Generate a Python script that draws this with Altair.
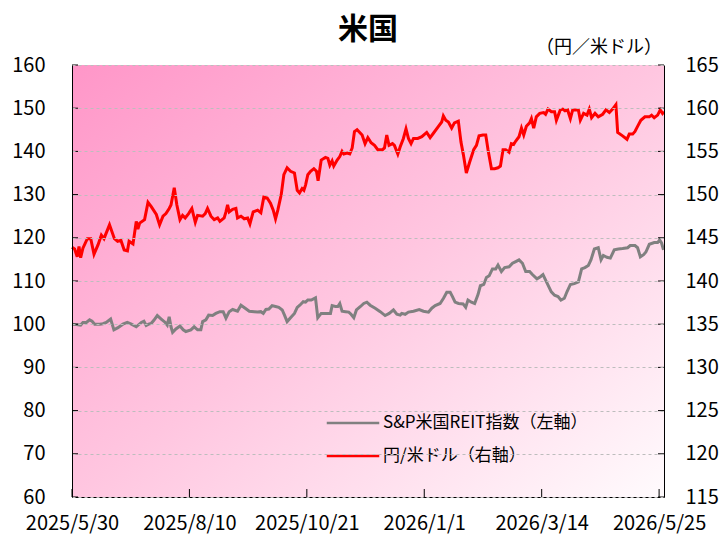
import altair as alt
import pandas as pd

START = "2025-05-30"
series_names = ["S&P米国REIT指数（左軸）", "円/米ドル（右軸）"]
series_colors = ["#808080", "#ff0000"]

# days since 2025/5/30
reit_days = [
    0, 2.6, 5.3, 6.7, 8.8, 10.8, 12.3, 13.9, 17, 19,
    21, 23.7, 25.7, 28.2, 31.2, 33.9, 36.4, 39.4, 42.5, 44.1,
    45.5, 47, 48.6, 50.2, 52.3, 54.7, 57.2, 58.4, 59.6, 60.7,
    61.7, 63.7, 66.2, 68.2, 69.8, 72.9, 74.9, 77, 79, 80.1,
    82.1, 83.8, 86.2, 88.2, 90.7, 92.7, 94.4, 96.4, 98.5, 101.5,
    103.6, 106.2, 108.7, 111.8, 113.8, 115.8, 117.3, 118.9, 120.7, 122.7,
    124.8, 126.8, 128.9, 130.3, 131.9, 134, 136.4, 138.1, 139.7, 141.8,
    143.2, 144.6, 146.7, 149.3, 150.7, 152.8, 155.4, 158.5, 159.5, 161.5,
    163, 164.2, 165.6, 167.7, 169.7, 171.1, 172.8, 174.4, 176.9, 178.9,
    180.8, 182.8, 185.9, 189, 192, 194.5, 197.1, 199.2, 201.2, 202.2,
    204.3, 206.3, 209.4, 212.9, 215.5, 218.6, 220.6, 222.7, 225.7, 227.8,
    229.8, 231.9, 233.3, 234.9, 237, 239.8, 241.4, 242.8, 244.9, 246.9,
    249, 250.4, 252.5, 254.1, 255.8, 257.8, 259.8, 261.2, 263.3, 265.3,
    268, 270.1, 272.1, 274.1, 276.2, 278.2, 280.6, 282.3, 285.1, 287.2,
    288.8, 291.3, 293.9, 295.9, 298, 299.8, 301.9, 303.5, 305.6, 308,
    310.5, 312.5, 314.5, 316.6, 318.2, 320.3, 322.7, 324.4, 325.8, 328,
    330.1, 332.5, 335, 337.6, 340.7, 342.3, 345.2, 346.8, 348.5, 350.5,
    351.9, 354, 357, 359.1, 360.3, 361.5, 362.7,
]
reit_vals = [
    100.0, 99.9, 99.8, 100.4, 100.4, 101.0, 100.7, 100.0, 100.0, 100.1,
    100.4, 101.2, 98.7, 99.2, 100.0, 100.4, 100.0, 99.4, 100.4, 100.7,
    99.7, 100.0, 100.2, 100.9, 102.0, 101.2, 100.4, 99.8, 101.7, 99.4,
    98.1, 98.9, 99.6, 98.7, 98.3, 98.7, 99.4, 98.7, 98.7, 100.6,
    101.0, 102.1, 102.0, 102.5, 102.9, 102.9, 101.4, 102.9, 103.4, 103.0,
    104.4, 103.7, 103.0, 102.9, 102.8, 102.9, 102.5, 103.4, 103.5, 104.3,
    104.1, 103.9, 103.3, 102.1, 100.6, 101.5, 102.5, 103.9, 104.4, 105.2,
    105.1, 105.6, 105.6, 106.1, 101.5, 102.5, 102.5, 102.5, 104.3, 104.1,
    104.1, 104.8, 103.0, 102.9, 102.8, 102.3, 101.5, 103.3, 104.1, 104.8,
    105.1, 104.4, 103.7, 102.9, 102.0, 102.5, 103.3, 102.3, 102.1, 102.5,
    102.3, 102.8, 103.0, 103.4, 103.0, 102.8, 103.7, 104.3, 104.8, 106.0,
    107.4, 107.4, 106.4, 105.1, 104.8, 104.7, 103.9, 105.6, 105.1, 104.8,
    106.9, 108.9, 109.2, 110.8, 111.2, 112.8, 112.8, 113.7, 112.2, 113.1,
    113.3, 114.1, 114.5, 114.9, 114.1, 112.2, 112.2, 111.5, 110.5, 111.0,
    111.5, 109.5, 107.5, 106.7, 106.4, 105.6, 106.0, 107.5, 109.2, 109.4,
    109.8, 112.8, 113.1, 113.6, 114.9, 117.4, 117.7, 114.9, 115.9, 115.5,
    115.3, 117.2, 117.4, 117.5, 117.7, 118.2, 118.2, 117.7, 115.6, 116.1,
    116.7, 118.5, 118.9, 118.9, 119.5, 118.8, 117.2,
]

usdjpy_days = [
    0, 1.6, 3.2, 4.3, 5.3, 6.7, 9.4, 11.5, 13.5, 16,
    18, 19.6, 23, 26, 28, 30, 32, 34, 35, 37.4,
    39.4, 40.4, 41.5, 44.5, 46.6, 48.6, 51.7, 53.7, 55.8, 57.6,
    59.6, 60.7, 62.7, 64.3, 66.2, 67.8, 69.4, 71.5, 73.5, 75.6,
    77, 80.1, 81.7, 83.1, 85.2, 87.2, 89.3, 90.7, 93.3, 94.4,
    95.4, 96.4, 98.5, 100.5, 101.5, 103.6, 105.6, 107.7, 109.1, 111.1,
    113.8, 115.8, 117.6, 119.7, 121.7, 123.4, 124.8, 126.2, 128.3, 129.9,
    131.9, 134, 136.4, 138.1, 139.5, 141.1, 142.2, 143.2, 144.6, 146.3,
    148.3, 149.9, 150.9, 152.8, 155.4, 156.9, 158.1, 159.5, 160.5, 162.6,
    164.2, 165.6, 166.7, 168.7, 170.3, 171.8, 173.2, 174.8, 177.9, 179.7,
    181.4, 183.4, 185.5, 187.5, 190.4, 191.6, 193, 194.4, 196.5, 197.7,
    199.8, 201.2, 203.2, 204.8, 206.3, 207.9, 209.4, 212, 214.5, 217.5,
    219.6, 221.6, 224.7, 226.7, 227.7, 229.2, 230.8, 232.8, 234.5, 236.9,
    238.5, 240, 241.8, 243.9, 246.3, 248, 249.6, 252, 253.7, 255.1,
    257.2, 259.2, 261.2, 262.7, 264.3, 265.9, 268, 269.4, 270.8, 272.1,
    274.1, 275.6, 277, 278.6, 280.6, 281.7, 283.1, 284.7, 286.8, 289.2,
    290.4, 291.9, 293.9, 295.9, 297, 299.4, 300.9, 302.3, 303.9, 305.6,
    307, 309, 310.5, 311.7, 313.7, 315.8, 317.2, 318.6, 320.7, 322.7,
    325.4, 327.4, 329.5, 331.5, 333.5, 334.6, 337.6, 340.3, 341.7, 343.8,
    345.2, 346.8, 348.8, 351.3, 354, 355.4, 357, 359.1, 360.7, 362.1,
    363,
]
usdjpy_vals = [
    143.9, 143.7, 142.8, 144.0, 142.7, 143.8, 144.9, 144.9, 143.1, 144.2,
    145.3, 144.9, 146.5, 144.9, 144.6, 144.7, 143.6, 143.5, 144.6, 144.3,
    146.9, 146.0, 146.7, 147.1, 149.1, 148.6, 147.7, 146.5, 147.5, 147.8,
    148.4, 148.8, 150.8, 148.8, 147.1, 147.6, 147.3, 147.8, 148.4, 146.8,
    147.6, 147.5, 147.8, 148.4, 147.5, 147.1, 147.3, 146.9, 147.3, 148.0,
    148.8, 148.0, 148.3, 148.4, 147.3, 147.5, 147.2, 147.3, 146.6, 148.0,
    148.2, 147.9, 149.7, 149.6, 149.0, 148.2, 147.2, 148.2, 150.0, 152.3,
    153.1, 152.7, 152.5, 150.5, 150.2, 150.7, 150.5, 151.1, 152.3, 152.7,
    153.0, 152.7, 151.6, 154.0, 154.3, 154.2, 153.4, 153.9, 153.3, 154.0,
    154.4, 155.0, 154.7, 154.8, 154.7, 155.4, 157.3, 157.5, 156.9, 155.9,
    156.6, 156.0, 155.7, 155.2, 155.2, 155.4, 156.9, 155.7, 155.9, 155.7,
    154.7, 155.5, 156.5, 157.6, 156.5, 155.9, 156.5, 156.5, 156.7, 157.2,
    156.6, 157.1, 157.9, 158.4, 159.1, 158.6, 158.4, 157.7, 158.3, 158.5,
    156.1, 154.6, 152.5, 153.8, 155.2, 155.7, 156.8, 156.9, 156.9, 155.2,
    153.0, 153.0, 153.1, 153.3, 155.2, 155.2, 154.9, 155.9, 155.8, 156.2,
    156.7, 157.7, 156.9, 157.9, 158.3, 158.8, 157.7, 159.0, 159.4, 159.5,
    159.3, 159.9, 159.6, 159.6, 158.6, 159.8, 159.9, 159.7, 159.8, 158.8,
    159.8, 159.8, 159.8, 158.6, 159.4, 159.2, 159.9, 158.9, 159.4, 159.0,
    159.3, 159.8, 159.5, 159.9, 160.4, 157.2, 156.8, 156.4, 157.0, 157.0,
    157.3, 157.9, 158.6, 159.0, 159.0, 159.2, 158.9, 159.2, 159.8, 159.4,
    159.6,
]

left_ticks = [60, 70, 80, 90, 100, 110, 120, 130, 140, 150, 160]
right_ticks = [115, 120, 125, 130, 135, 140, 145, 150, 155, 160, 165]
x_tick_dates = ["2025-05-30", "2025-08-10", "2025-10-21", "2026-01-01", "2026-03-14", "2026-05-25"]
x_domain = ["2025-05-30", "2026-05-28"]
title_text = "米国"
unit_text = "（円／米ドル）"

FONT = "Noto Sans CJK JP"
W, H = 592, 432


def to_dates(days):
    ts = pd.Timestamp(START) + pd.to_timedelta(days, unit="D")
    return ts.strftime("%Y-%m-%dT%H:%M:%S")


def dt(s):
    y, m, d = (int(p) for p in s.split("-"))
    return alt.DateTime(year=y, month=m, date=d)


df = pd.concat([
    pd.DataFrame({"date": to_dates(reit_days), "value": reit_vals, "series": series_names[0]}),
    pd.DataFrame({"date": to_dates(usdjpy_days), "value": usdjpy_vals, "series": series_names[1]}),
])

x_scale = alt.Scale(domain=[dt(d) for d in x_domain])
left_scale = alt.Scale(domain=[60, 160], nice=False, zero=False)
right_scale = alt.Scale(domain=[115, 165], nice=False, zero=False)

x_axis = alt.Axis(
    values=[dt(d) for d in x_tick_dates], format="%Y/%-m/%-d", title=None,
    labelFont=FONT, labelFontSize=20, labelColor="black", labelPadding=16,
    labelOverlap=False, labelFlush=False, domainColor="black", domainWidth=1,
    ticks=False, grid=False,
)


def x_enc(field):
    return alt.X(field, scale=x_scale, axis=x_axis)


color_enc = alt.Color(
    "series:N",
    scale=alt.Scale(domain=series_names, range=series_colors),
    legend=alt.Legend(
        title=None, orient="none", direction="vertical", legendX=269, legendY=346,
        symbolType="M-2.5,0H2.5", symbolSize=441, symbolStrokeWidth=2.5,
        labelFont=FONT, labelFontSize=17, labelColor="black", labelOffset=18,
        rowPadding=13, padding=0, labelLimit=400,
    ),
)

bg = alt.Chart(pd.DataFrame({"k": [0]})).mark_rect(
    fill={"gradient": "linear", "x1": 0, "y1": 0, "x2": 1, "y2": 1,
          "stops": [{"offset": 0, "color": "#ff96c8"},
                    {"offset": 0.5, "color": "#ffc6e0"},
                    {"offset": 1, "color": "#fffbfd"}]},
).encode(x=alt.value(0), x2=alt.value(W), y=alt.value(0), y2=alt.value(H))

base = alt.Chart(df)

reit = base.transform_filter(alt.datum.series == series_names[0]).mark_line(strokeWidth=3).encode(
    x=x_enc("date:T"),
    y=alt.Y("value:Q", scale=left_scale,
            axis=alt.Axis(values=left_ticks, title=None, orient="left", grid=True,
                          gridColor="#bdbdbd", gridDash=[3, 3], gridWidth=1,
                          domainColor="black", ticks=False, labelPadding=27,
                          labelFont=FONT, labelFontSize=20, labelColor="black", zindex=1)),
    color=color_enc,
)

usdjpy = base.transform_filter(alt.datum.series == series_names[1]).mark_line(strokeWidth=3).encode(
    x=x_enc("date:T"),
    y=alt.Y("value:Q", scale=right_scale,
            axis=alt.Axis(values=right_ticks, title=None, orient="right", grid=False,
                          domainColor="black", ticks=False, labelPadding=21,
                          labelFont=FONT, labelFontSize=20, labelColor="black", zindex=1)),
    color=color_enc,
)

# inward tick marks (Excel style)
x_ticks = alt.Chart(pd.DataFrame({"d": [s + "T00:00:00" for s in x_tick_dates]})).mark_rule(
    color="black", strokeWidth=1
).encode(x=x_enc("d:T"), y=alt.value(H), y2=alt.value(H - 8))

l_ticks = alt.Chart(pd.DataFrame({"v": left_ticks})).mark_rule(color="black", strokeWidth=1).encode(
    y=alt.Y("v:Q", scale=left_scale, axis=None), x=alt.value(0), x2=alt.value(6))

r_ticks = alt.Chart(pd.DataFrame({"v": right_ticks})).mark_rule(color="black", strokeWidth=1).encode(
    y=alt.Y("v:Q", scale=right_scale, axis=None), x=alt.value(W - 6), x2=alt.value(W))

unit = alt.Chart(pd.DataFrame({"t": [unit_text]})).mark_text(
    align="right", baseline="alphabetic", font=FONT, fontSize=18, color="black"
).encode(x=alt.value(W - 2), y=alt.value(-12), text="t:N")

chart = alt.layer(bg, reit, usdjpy, x_ticks, l_ticks, r_ticks, unit).resolve_scale(y="independent").properties(
    width=W, height=H,
    title=alt.TitleParams(text=title_text, font=FONT, fontSize=30, fontWeight="bold",
                          color="black", anchor="middle", offset=12, dy=18),
    autosize=alt.AutoSizeParams(type="none"),
    padding={"left": 72, "top": 65, "right": 58, "bottom": 39},
).configure_view(stroke=None)

chart.save("out.html", embed_options={"renderer": "svg", "actions": False})
